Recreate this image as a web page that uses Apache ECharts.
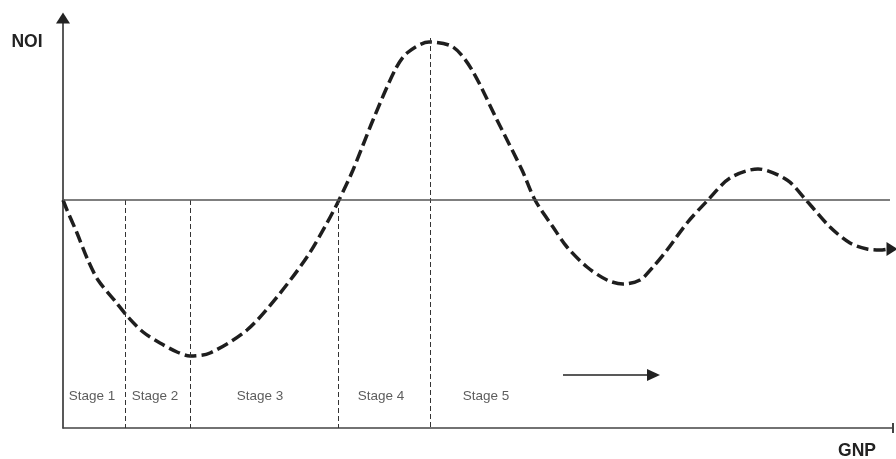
<!DOCTYPE html>
<html>
<head>
<meta charset="utf-8">
<script src="https://cdn.jsdelivr.net/npm/echarts@6/dist/echarts.min.js"></script>
<style>html,body{margin:0;padding:0;background:#fff;}#c{width:896px;height:459px;}</style>
</head>
<body>
<div id="c"></div>
<script>
// GNP (x) and NOI (y) values of the business-cycle curve
const curveX = [0, 4, 14, 24, 35, 52, 65, 80, 97, 114, 127, 147, 184, 214, 244, 264, 276, 290, 310, 332, 344, 366, 390, 409, 434, 459, 472, 490, 504, 524, 544, 560, 577, 590, 604, 624, 645, 667, 695, 724, 743, 767, 787, 804, 817, 825];
const curveY = [0, -10, -33, -58, -80, -101, -117, -132, -143, -152, -156, -153, -130, -97, -57, -23, 0, 30, 80, 130, 147, 158, 153, 130, 80, 30, 0, -27, -47, -67, -80, -84, -80, -67, -50, -23, 0, 22, 31, 20, 0, -27, -43, -49, -50, -49];
const stageBounds = [62, 127, 275, 367];
const stageNames = ['Stage 1', 'Stage 2', 'Stage 3', 'Stage 4', 'Stage 5'];
const stageLabelX = [29, 92, 197, 318, 423];
const stageLabelY = -196;
const peakY = 162;
const xMin = 0, xMax = 830, yMin = -228, yMax = 182;
const arrowFrom = [500, -175], arrowTo = [590.5, -175];
const curveEnd = [829, -49];

const curveData = curveX.map((x, i) => [x, curveY[i]]);
const ink = '#1e1e1e';
const font = '"Liberation Sans", Arial, sans-serif';

const vLines = stageBounds.map((x, i) => [
  { coord: [x, i === 3 ? peakY : 0] },
  { coord: [x, yMin] }
]);

const chart = echarts.init(document.getElementById('c'));
chart.setOption({
  animation: false,
  backgroundColor: '#fff',
  grid: { left: 63, right: 3, top: 18, bottom: 31 },
  xAxis: {
    type: 'value', min: xMin, max: xMax,
    axisLine: { show: true, onZero: false, lineStyle: { color: '#444', width: 1.5 }, symbol: ['none', 'rect'], symbolSize: [10, 2] },
    axisTick: { show: false }, axisLabel: { show: false }, splitLine: { show: false }
  },
  yAxis: {
    type: 'value', min: yMin, max: yMax,
    axisLine: { show: true, onZero: false, lineStyle: { color: '#222', width: 1.5 }, symbol: ['none', 'triangle'], symbolSize: [14, 11] },
    axisTick: { show: false }, axisLabel: { show: false }, splitLine: { show: false }
  },
  graphic: [
    { type: 'text', x: 27, y: 42, style: { text: 'NOI', font: 'bold 17.5px ' + font, fill: '#222', textAlign: 'center', textVerticalAlign: 'middle' } },
    { type: 'text', x: 857, y: 451, style: { text: 'GNP', font: 'bold 17.5px ' + font, fill: '#222', textAlign: 'center', textVerticalAlign: 'middle' } }
  ],
  series: [
    {
      type: 'line', silent: true, z: 2,
      data: [],
      markLine: {
        silent: true, symbol: 'none', animation: false,
        label: { show: false },
        lineStyle: { color: '#333', width: 1, type: [5, 3] },
        data: vLines
      }
    },
    {
      type: 'line', silent: true, z: 2,
      data: [],
      markLine: {
        silent: true, symbol: 'none', animation: false,
        label: { show: false },
        lineStyle: { color: '#555', width: 1.5, type: 'solid' },
        data: [[{ coord: [0, 0] }, { coord: [827, 0] }]]
      }
    },
    {
      type: 'line', silent: true, z: 3,
      data: [],
      markLine: {
        silent: true, symbol: ['none', 'triangle'], symbolSize: [12, 13], animation: false,
        label: { show: false },
        lineStyle: { color: '#222', width: 1.5, type: 'solid' },
        data: [[{ coord: arrowFrom }, { coord: arrowTo }]]
      }
    },
    {
      type: 'line', z: 4, silent: true, clip: false,
      smooth: 0.3, symbol: 'none',
      data: curveData,
      lineStyle: { color: ink, width: 3.5, type: [12, 5] },
      markPoint: {
        silent: true, animation: false,
        symbol: 'triangle', symbolSize: [14, 11], symbolRotate: -90,
        itemStyle: { color: ink },
        label: { show: false },
        data: [{ coord: curveEnd }]
      }
    },
    {
      type: 'scatter', silent: true, symbolSize: 0,
      data: stageNames.map((n, i) => ({ name: n, value: [stageLabelX[i], stageLabelY] })),
      label: {
        show: true, position: 'inside', formatter: p => p.name,
        color: '#333', fontSize: 13.5, fontFamily: font
      }
    }
  ]
});
</script>
</body>
</html>
